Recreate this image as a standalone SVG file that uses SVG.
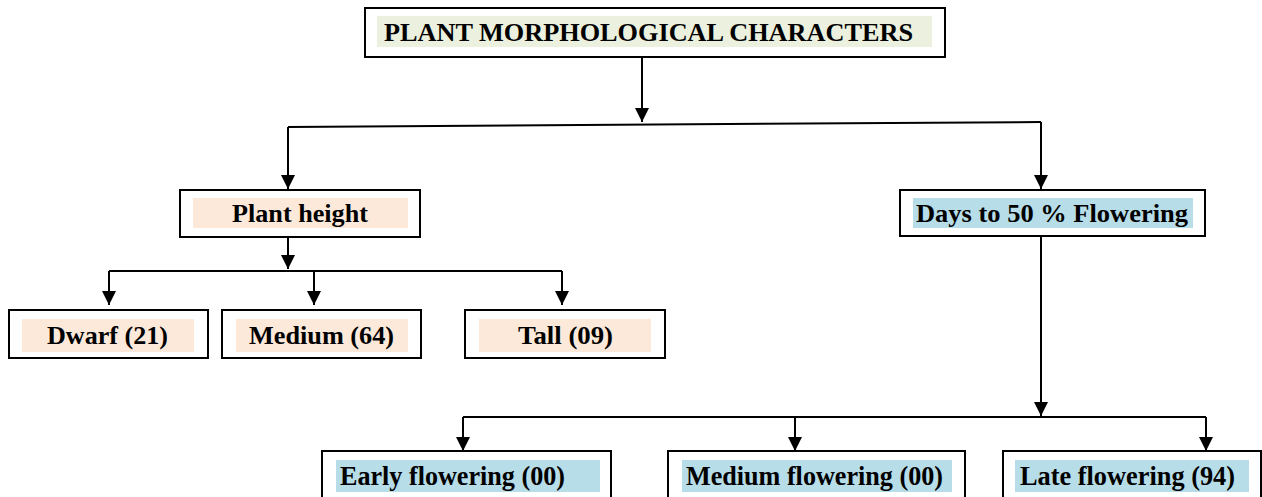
<svg xmlns="http://www.w3.org/2000/svg" width="1262" height="497" viewBox="0 0 1262 497">
<defs>
<style>
.box{fill:#fff;stroke:#000;stroke-width:2}
.hg{fill:#EBF1DE}
.hp{fill:#FDE9D9}
.hb{fill:#B7DDE8}
.c{fill:none;stroke:#000;stroke-width:2}
</style>
<marker id="ah" markerUnits="userSpaceOnUse" markerWidth="14" markerHeight="14" refX="14" refY="7" orient="auto">
<path d="M0,0 L14,7 L0,14 z" fill="#000"/>
</marker>
</defs>
<rect width="1262" height="497" fill="#fff"/>
<g id="connectors">
<path class="c" d="M642,57 V122" marker-end="url(#ah)"/>
<path class="c" d="M288,127 L1041,122"/>
<path class="c" d="M288,127 V189" marker-end="url(#ah)"/>
<path class="c" d="M1041,122 V189" marker-end="url(#ah)"/>
<path class="c" d="M288,237 V269" marker-end="url(#ah)"/>
<path class="c" d="M109,271 H562"/>
<path class="c" d="M109,271 V305" marker-end="url(#ah)"/>
<path class="c" d="M314,271 V305" marker-end="url(#ah)"/>
<path class="c" d="M562,271 V305" marker-end="url(#ah)"/>
<path class="c" d="M1041,236 V416" marker-end="url(#ah)"/>
<path class="c" d="M463,417 H1206"/>
<path class="c" d="M463,417 V451" marker-end="url(#ah)"/>
<path class="c" d="M795,417 V451" marker-end="url(#ah)"/>
<path class="c" d="M1206,417 V451" marker-end="url(#ah)"/>
</g>
<g font-family="Liberation Serif, Times New Roman, serif" font-weight="bold" font-size="26" fill="#000">
<g id="root">
<rect class="box" x="365" y="8" width="580" height="49"/>
<rect class="hg" x="377" y="16" width="555" height="31"/>
<text x="384" y="41" textLength="529" lengthAdjust="spacingAndGlyphs">PLANT MORPHOLOGICAL CHARACTERS</text>
</g>
<g id="plant-height">
<rect class="box" x="180" y="190" width="240" height="47"/>
<rect class="hp" x="193" y="198" width="215" height="30"/>
<text x="232" y="222" textLength="136" lengthAdjust="spacingAndGlyphs">Plant height</text>
</g>
<g id="days-flowering">
<rect class="box" x="900" y="190" width="305" height="46"/>
<rect class="hb" x="913" y="198" width="280" height="30"/>
<text x="916" y="222" textLength="272" lengthAdjust="spacingAndGlyphs">Days to 50 % Flowering</text>
</g>
<g id="dwarf">
<rect class="box" x="9" y="310" width="199" height="48"/>
<rect class="hp" x="22" y="319" width="172" height="33"/>
<text x="47" y="344" textLength="121" lengthAdjust="spacingAndGlyphs">Dwarf (21)</text>
</g>
<g id="medium">
<rect class="box" x="222" y="310" width="199" height="48"/>
<rect class="hp" x="236" y="319" width="172" height="33"/>
<text x="249" y="344" textLength="145" lengthAdjust="spacingAndGlyphs">Medium (64)</text>
</g>
<g id="tall">
<rect class="box" x="465" y="310" width="200" height="48"/>
<rect class="hp" x="479" y="319" width="172" height="33"/>
<text x="518" y="344" textLength="95" lengthAdjust="spacingAndGlyphs">Tall (09)</text>
</g>
<g id="early-flowering">
<rect class="box" x="322" y="451" width="289" height="60"/>
<rect class="hb" x="336" y="460" width="264" height="32"/>
<text x="340" y="485" font-size="28" textLength="225" lengthAdjust="spacingAndGlyphs">Early flowering (00)</text>
</g>
<g id="medium-flowering">
<rect class="box" x="668" y="451" width="297" height="60"/>
<rect class="hb" x="682" y="460" width="270" height="32"/>
<text x="686" y="485" font-size="28" textLength="257" lengthAdjust="spacingAndGlyphs">Medium flowering (00)</text>
</g>
<g id="late-flowering">
<rect class="box" x="1003" y="451" width="258" height="60"/>
<rect class="hb" x="1015" y="460" width="234" height="32"/>
<text x="1020" y="485" font-size="28" textLength="215" lengthAdjust="spacingAndGlyphs">Late flowering (94)</text>
</g>
</g>
</svg>
